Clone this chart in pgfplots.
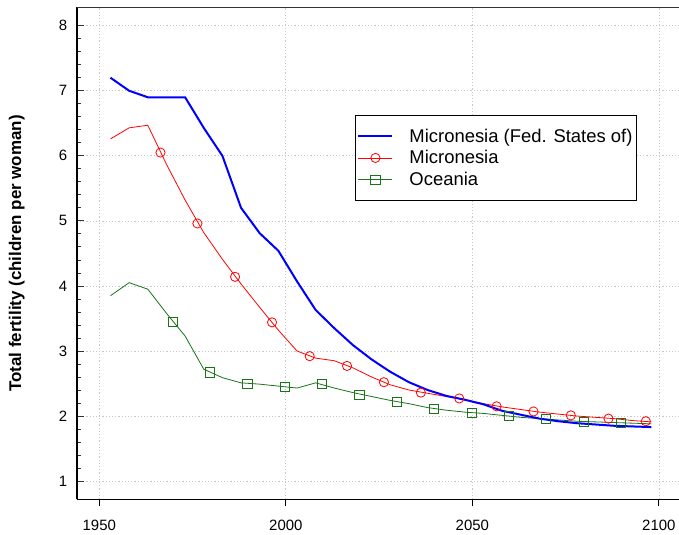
\documentclass[border=0pt]{standalone}
\usepackage{pgfplots}
\pgfplotsset{compat=1.18}
\usepackage{fontspec}
\setmainfont{Liberation Sans}
\definecolor{ogreen}{RGB}{25,115,25}
\definecolor{gridc}{RGB}{200,200,200}

\pgfplotstableread{
x y
1953 7.20
1958 7.00
1963 6.90
1968 6.90
1973 6.90
1978 6.43
1983 6.00
1988 5.20
1993 4.81
1998 4.54
2003 4.07
2008 3.63
2013 3.35
2018 3.09
2023 2.87
2028 2.68
2033 2.52
2038 2.40
2043 2.31
2048 2.25
2053 2.18
2058 2.08
2063 2.02
2068 1.96
2073 1.92
2078 1.89
2083 1.87
2088 1.85
2093 1.84
2098 1.83
}\fsm

\pgfplotstableread{
x y
1953 6.26
1958 6.43
1963 6.47
1968 5.87
1973 5.32
1978 4.82
1983 4.41
1988 4.03
1993 3.67
1998 3.32
2003 3.00
2008 2.89
2013 2.85
2018 2.74
2023 2.60
2028 2.48
2033 2.40
2038 2.35
2043 2.30
2048 2.25
2053 2.19
2058 2.14
2063 2.10
2068 2.06
2073 2.03
2078 2.00
2083 1.98
2088 1.96
2093 1.93
2098 1.91
}\mic

\pgfplotstableread{
x y
1966.4 6.05
1976.3 4.96
1986.4 4.14
1996.3 3.44
2006.4 2.92
2016.4 2.77
2026.3 2.52
2036.2 2.36
2046.5 2.27
2056.5 2.15
2066.4 2.07
2076.4 2.01
2086.5 1.96
2096.5 1.92
}\micm

\pgfplotstableread{
x y
1953 3.85
1958 4.05
1963 3.95
1968 3.58
1973 3.23
1978 2.72
1983 2.59
1988 2.51
1993 2.49
1998 2.46
2003 2.43
2008 2.51
2013 2.43
2018 2.36
2023 2.30
2028 2.24
2033 2.19
2038 2.13
2043 2.09
2048 2.06
2053 2.04
2058 2.01
2063 1.98
2068 1.96
2073 1.94
2078 1.92
2083 1.91
2088 1.90
2093 1.89
2098 1.88
}\oce

\pgfplotstableread{
x y
1969.7 3.45
1979.7 2.67
1989.7 2.49
1999.7 2.45
2009.7 2.49
2019.7 2.33
2029.7 2.22
2039.7 2.11
2049.8 2.05
2059.8 2.00
2069.8 1.95
2079.8 1.91
2089.8 1.90
}\ocem

\begin{document}
\begin{tikzpicture}
\begin{axis}[
  scale only axis,
  width=602.3bp, height=491.8bp,
  xmin=1943.94, xmax=2105.4,
  ymin=0.72, ymax=8.28,
  axis x line*=bottom, axis y line*=left,
  x axis line style={line width=1.2bp, black},
  y axis line style={line width=1.8bp, black},
  xtick={1950,2000,2050,2100},
  ytick={1,2,3,4,5,6,7,8},
  minor y tick num=4,
  tick align=inside,
  major tick length=7bp,
  minor tick length=4bp,
  xtick style={yshift=-7bp, line width=0.8bp, black},
  ytick style={line width=0.8bp, black!80},
  minor tick style={line width=0.8bp, black!70},
  grid=major,
  grid style={gridc, line width=0.7bp, dash pattern=on 1.2bp off 2bp},
  ticklabel style={font=\fontsize{15}{18}\selectfont},
  /pgf/number format/assume math mode=true,
  /pgf/number format/1000 sep={},
  yticklabel style={xshift=-6bp},
  xticklabel style={yshift=-17bp},
  every axis y label/.style={at={(axis description cs:-0.0996,0.5)}, rotate=90, anchor=center},
  ylabel={Total fertility (children per woman)},
  ylabel style={font=\fontsize{17}{20}\selectfont\bfseries},
  clip=false,
  legend style={at={(axis description cs:0.462,0.781)}, anchor=north west,
    draw=black, line width=1bp, fill=white,
    font=\fontsize{18.5}{22}\selectfont,
    inner xsep=2bp, inner ysep=11bp, row sep=3bp,
    cells={anchor=west}},
  legend image code/.code={\draw[mark repeat=2,mark phase=2,#1] plot coordinates {(0bp,0bp) (17bp,0bp) (34bp,0bp)}; \path[draw=none, fill=none] (0bp,0bp) -- (49bp,0bp);},
]
\draw[line width=1.6bp, black!80] (rel axis cs:0,1) -- (rel axis cs:1,1);

\addplot[red, line width=0.8bp, forget plot] table {\mic};
\addplot[red, only marks, mark=o, mark size=4.6bp, mark options={line width=0.8bp}, forget plot] table {\micm};
\addplot[ogreen, line width=0.8bp, forget plot] table {\oce};
\addplot[ogreen, only marks, mark=square, mark size=4.6bp, mark options={line width=0.8bp}, forget plot] table {\ocem};
\addplot[blue, line width=2bp, forget plot] table {\fsm};

\addlegendimage{blue, line width=2bp}
\addlegendentry{Micronesia (Fed. States of)}
\addlegendimage{red, line width=0.8bp, mark=o, mark size=4.6bp, mark options={line width=0.8bp}}
\addlegendentry{Micronesia}
\addlegendimage{ogreen, line width=0.8bp, mark=square, mark size=4.6bp, mark options={line width=0.8bp}}
\addlegendentry{Oceania}
\end{axis}
\pgfresetboundingbox
\path[use as bounding box] (-76.7bp,-35.7bp) rectangle (602.3bp,499.3bp);
\end{tikzpicture}
\end{document}
